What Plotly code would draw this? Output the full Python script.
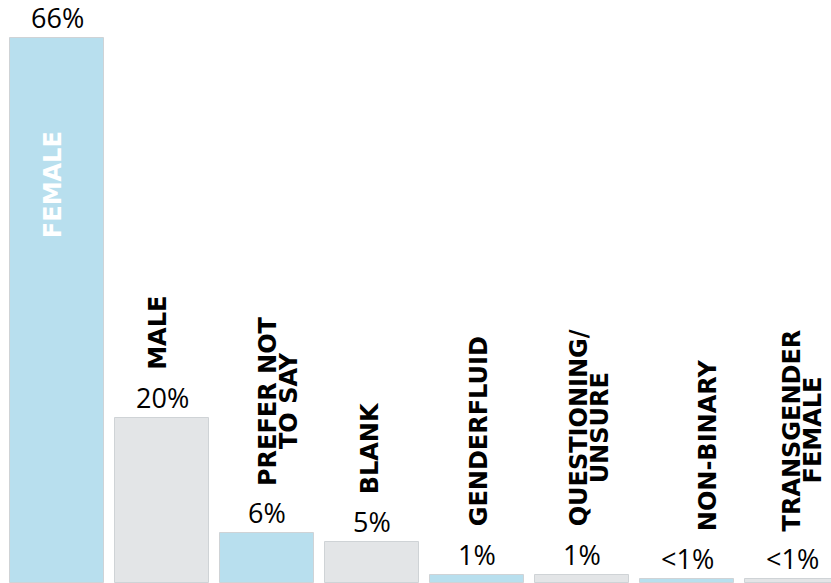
import plotly.graph_objects as go

# ---- data ----
categories = ["FEMALE", "MALE", "PREFER NOT<br>TO SAY", "BLANK", "GENDERFLUID",
              "QUESTIONING/<br>UNSURE", "NON-BINARY", "TRANSGENDER<br>FEMALE"]
values = [66, 20, 6, 5, 1, 1, 0.45, 0.45]
value_labels = ["66%", "20%", "6%", "5%", "1%", "1%", "<1%", "<1%"]

# ---- style ----
BLUE = "#b8dfee"
GRAY = "#e3e5e7"
bar_colors = [BLUE if i % 2 == 0 else GRAY for i in range(len(categories))]
label_xshift = [0, -4, 1, -2, 2, -3, 21, 0]   # horizontal nudges of the vertical labels
LABEL_FONT = dict(family="DejaVu Sans", size=24, color="black", weight="bold")
PCT_FONT = dict(family="Open Sans", size=27, color="black")
LINE_GAP = 21  # px between lines of two-line vertical labels

W = {'A': 774, 'B': 762, 'C': 734, 'D': 830, 'E': 683, 'F': 683, 'G': 821, 'H': 837,
     'I': 372, 'J': 372, 'K': 775, 'L': 637, 'M': 995, 'N': 837, 'O': 850, 'P': 733,
     'Q': 850, 'R': 770, 'S': 720, 'T': 682, 'U': 812, 'V': 774, 'W': 1103, 'X': 771,
     'Y': 724, 'Z': 725, ' ': 348, '-': 415, '/': 365}


def text_len(s, size):
    return sum(W.get(c, 700) for c in s) / 1000 * size


xs = list(range(len(categories)))
fig = go.Figure(go.Bar(
    x=xs, y=values, width=0.895,
    marker=dict(color=bar_colors, line=dict(color="#cfd3d6", width=1)),
    hoverinfo="skip",
))

annotations = []
for i, (cat, v, lab) in enumerate(zip(categories, values, value_labels)):
    # percentage above bar
    annotations.append(dict(x=xs[i], y=v, text=lab, showarrow=False, xanchor="center",
                            yanchor="bottom", yshift=0, font=PCT_FONT))
    lines = cat.split("<br>")
    longest = max(text_len(l, LABEL_FONT["size"]) for l in lines)
    if i == 0:
        annotations.append(dict(x=xs[i], y=v * 0.73, text=cat, showarrow=False,
                                textangle=-90, xanchor="center", yanchor="middle",
                                xshift=-4,
                                font=dict(LABEL_FONT, color="white")))
        continue
    for j, line in enumerate(lines):
        annotations.append(dict(x=xs[i], y=v, text=line, showarrow=False, textangle=-90,
                                xanchor="center", yanchor="middle",
                                xshift=label_xshift[i] + j * LINE_GAP,
                                yshift=48 + longest / 2, font=LABEL_FONT))

fig.update_layout(
    width=831, height=583,
    margin=dict(l=0, r=0, t=0, b=0),
    paper_bgcolor="white", plot_bgcolor="white",
    showlegend=False,
    bargap=0,
    xaxis=dict(range=[-0.543, 7.371], visible=False, fixedrange=True),
    yaxis=dict(range=[0, 70.6], visible=False, fixedrange=True),
    annotations=annotations,
)

fig.write_html("out.html", config={"displayModeBar": False},
               post_script="document.body.style.margin='0';document.body.style.overflow='hidden';")
